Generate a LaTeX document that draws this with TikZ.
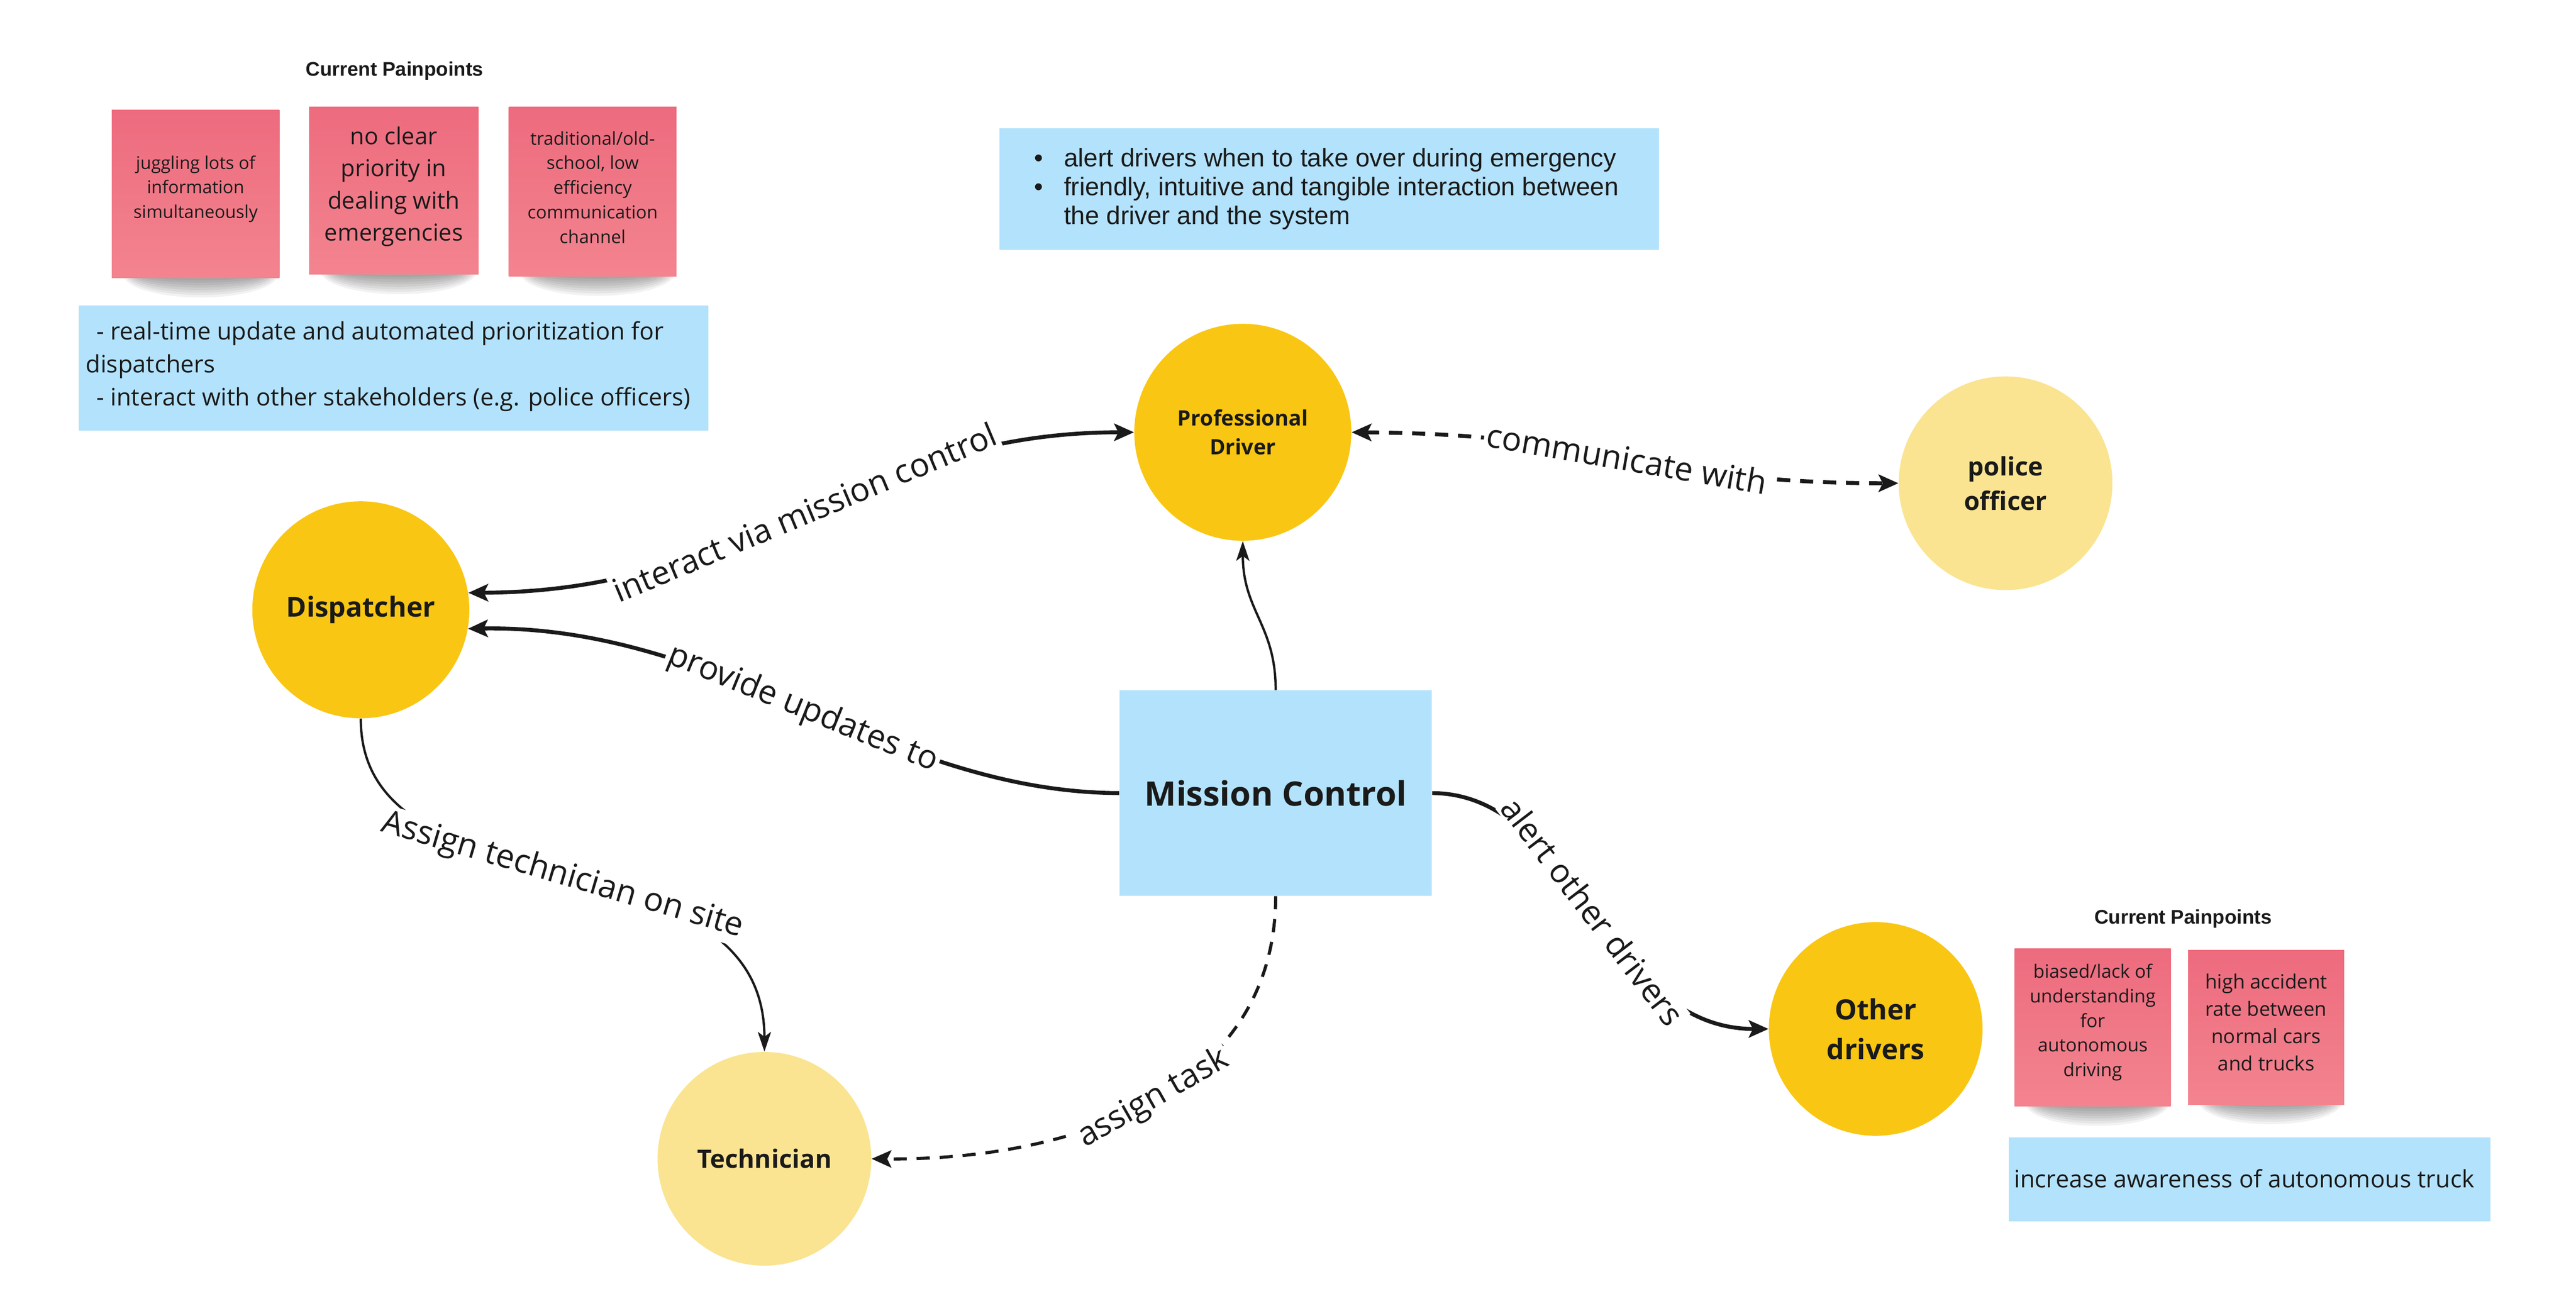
\documentclass[tikz,border=0pt]{standalone}
\usepackage{fontspec}
\setmainfont{Open Sans}
\newfontfamily\arialf{Liberation Sans}
\usetikzlibrary{arrows.meta}
\definecolor{ylw}{HTML}{F9C613}
\definecolor{lylw}{HTML}{FAE491}
\definecolor{lblue}{HTML}{B3E2FC}
\definecolor{pinkT}{HTML}{ED6B7E}
\definecolor{pinkB}{HTML}{F3848F}
\definecolor{ink}{HTML}{1A1A1A}
\newcommand\fsz[2]{\fontsize{#1}{#2}\selectfont}
\newcommand\stickyshadow[3]{%
  \foreach \k in {0,...,7}{%
    \fill[black,opacity=0.05] (#1+0.03*#3, #2-2) ellipse [x radius={(0.46-0.013*\k)*#3}, y radius={14-1.5*\k}];}}
\begin{document}
\begin{tikzpicture}[x=1pt,y=-1pt,
  actor/.style={circle, minimum size=132pt, inner sep=0pt, align=center, text=ink},
  core/.style={actor, fill=ylw},
  side/.style={actor, fill=lylw},
  sticky/.style={rectangle, inner sep=0pt, top color=pinkT, bottom color=pinkB},
  stickytext/.style={align=center, text=ink, inner sep=0pt},
  bluenote/.style={rectangle, fill=lblue, inner sep=0pt},
  plain/.style={text=ink, inner sep=0pt},
  conn/.style={draw=ink, line width=2.4pt},
  thinconn/.style={draw=ink, line width=1.4pt},
  dashconn/.style={dash pattern=on 8pt off 6pt},
  tip/.style={arrows={-Stealth[length=12pt,width=10.5pt,inset=2.5pt]}},
  tips/.style={arrows={Stealth[length=12pt,width=10.5pt,inset=2.5pt]-Stealth[length=12pt,width=10.5pt,inset=2.5pt]}},
  slimtip/.style={arrows={-Stealth[length=12pt,width=8pt,inset=3pt]}},
  elabel/.style={sloped, fill=white, inner sep=1.5pt, text=ink, font=\fsz{20}{24}},
]
\fill[white] (0,0) rectangle (1567,797.3);
\useasboundingbox (0,0) rectangle (1567,797.3);

% ---- left painpoints
\node[plain, font=\arialf\bfseries\fsz{12}{14}] (tl) at (240,43) {Current Painpoints};
\stickyshadow{119}{169}{102}
\stickyshadow{239.5}{167}{103}
\stickyshadow{360.5}{168}{102}
\node[sticky, minimum width=102pt, minimum height=102pt] (n1) at (119,118) {};
\node[sticky, minimum width=103pt, minimum height=102pt] (n2) at (239.5,116) {};
\node[sticky, minimum width=102pt, minimum height=103pt] (n3) at (360.5,116.5) {};
\node[stickytext, font=\fsz{10.7}{15}] (n1t) at (119,115) {juggling lots of\\information\\simultaneously};
\node[stickytext, font=\fsz{14.2}{19.5}] (n2t) at (239.5,113.5) {no clear\\priority in\\dealing with\\emergencies};
\node[stickytext, font=\fsz{10.9}{15}] (n3t) at (360.5,114) {traditional/old-\\school, low\\efficiency\\communication\\channel};
\node[bluenote, minimum width=383pt, minimum height=76pt] (bl) at (239.5,224) {};
\node[plain, anchor=west, align=left, font=\fsz{14.6}{20}] (blt) at (52,223)
  {\hspace*{0.45em}- real-time update and automated prioritization for\\dispatchers\\\hspace*{0.45em}- interact with other stakeholders (e.g. police officers)};

% ---- top middle note
\node[bluenote, minimum width=401pt, minimum height=74pt] (bt) at (808.5,115) {};
\node[plain, anchor=west, align=left, font=\arialf\fsz{15.5}{17.5}] (btt) at (629,115)
  {\makebox[18pt][l]{•}alert drivers when to take over during emergency\\
   \makebox[18pt][l]{•}friendly, intuitive and tangible interaction between\\
   \hspace*{18pt}the driver and the system};

% ---- right painpoints
\node[plain, font=\arialf\bfseries\fsz{12}{14}] (tr) at (1328,559) {Current Painpoints};
\stickyshadow{1273}{673}{95}
\stickyshadow{1378.5}{672}{95}
\node[sticky, minimum width=95pt, minimum height=96pt] (na) at (1273,625) {};
\node[sticky, minimum width=95pt, minimum height=94pt] (nb) at (1378.5,625) {};
\node[stickytext, font=\fsz{11.2}{15}] (nat) at (1273,622) {biased/lack of\\understanding\\for\\autonomous\\driving};
\node[stickytext, font=\fsz{12}{16.7}] (nbt) at (1378.5,622) {high accident\\rate between\\normal cars\\and trucks};
\node[bluenote, minimum width=293pt, minimum height=51pt] (br) at (1368.5,717.5) {};
\node[plain, anchor=west, font=\fsz{14.6}{18}] (brt) at (1225,717) {increase awareness of autonomous truck};

% ---- actors
\node[core, font=\bfseries\fsz{12.9}{17.5}] (drv) at (756,263) {Professional\\Driver};
\node[side, minimum size=130pt, font=\bfseries\fsz{15.5}{21}] (pol) at (1220,294) {police\\officer};
\node[core, font=\bfseries\fsz{16.7}{20}] (disp) at (219.5,371) {Dispatcher};
\node[side, minimum size=130pt, font=\bfseries\fsz{15.4}{19}] (tech) at (465,705) {Technician};
\node[core, minimum size=130pt, font=\bfseries\fsz{17}{24}] (oth) at (1141,626) {Other\\drivers};
\node[bluenote, minimum width=190pt, minimum height=125pt, text=ink, font=\bfseries\fsz{20.5}{24}] (mc) at (776,482.5) {Mission Control};

% ---- connectors
\draw[conn, tip] (mc.west) .. controls (540,482) and (440,380) .. (disp.-10)
  node[elabel, pos=0.5] {provide updates to};
\draw[conn, tips] (disp.9) .. controls (460,360) and (520,263) .. (drv.west)
  node[elabel, pos=0.5] {interact via mission control};
\draw[conn, dashconn, tips] (drv.east) .. controls (980,264) and (1000,294) .. (pol.west)
  node[elabel, pos=0.5] {communicate with};
\draw[thinconn, slimtip] (mc.north) .. controls (776,380) and (756,372) .. (drv.south);
\draw[thinconn, slimtip] (disp.south) .. controls (219,560) and (465,502) .. (tech.north)
  node[elabel, pos=0.5] {Assign technician on site};
\draw[draw=ink, line width=1.9pt, dashconn, tip] (mc.south) .. controls (776,660) and (660,706) .. (tech.east)
  node[elabel, pos=0.5] {assign task};
\draw[conn, tip] (mc.east) .. controls (960,483) and (975,626) .. (oth.west)
  node[elabel, pos=0.5] {alert other drivers};
\end{tikzpicture}
\end{document}
